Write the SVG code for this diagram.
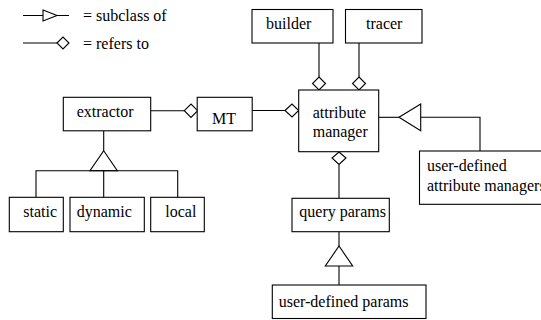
<svg xmlns="http://www.w3.org/2000/svg" width="541" height="320" viewBox="0 0 541 320">
<style>
.box{fill:#fff;stroke:#000;stroke-width:1.1}
.ln{fill:none;stroke:#000;stroke-width:1.1}
.dia{fill:#fff;stroke:#000;stroke-width:1.1}
.tri{fill:#fff;stroke:#000;stroke-width:1.1}
.t{font-family:'Liberation Serif','Times New Roman',serif;font-size:16px;fill:#000}
</style>
<g id="legend">
<path class="ln" d="M23,15.5 H69"/>
<polygon class="tri" points="43,10 57,15.5 43,21"/>
<text class="t" x="83" y="21">= subclass of</text>
<path class="ln" d="M23,43 H57"/>
<polygon class="dia" points="57,43 63,37 69,43 63,49"/>
<text class="t" x="83" y="49">= refers to</text>
</g>
<g id="connectors">
<path class="ln" d="M319,43 V77"/>
<polygon class="dia" points="319,77 325.5,83.5 319,90 312.5,83.5"/>
<path class="ln" d="M359,43 V77"/>
<polygon class="dia" points="359,77 365.5,83.5 359,90 352.5,83.5"/>
<path class="ln" d="M252,110.5 H285"/>
<polygon class="dia" points="285,110.5 292,104 298.7,110.5 292,117"/>
<path class="ln" d="M151,110.7 H184.3"/>
<polygon class="dia" points="184.3,110.7 191,104 197.7,110.7 191,117.4"/>
<path class="ln" d="M103.7,131 V150.7"/>
<polygon class="tri" points="103.7,150.7 117.3,170.7 90,170.7"/>
<path class="ln" d="M36,197.3 V170.7 H177.7 V197.3 M103.7,170.7 V197.3"/>
<path class="ln" d="M378.7,117.3 H399"/>
<polygon class="tri" points="399,117.3 420.7,104 420.7,130.7"/>
<path class="ln" d="M420.7,117.3 H480 V151"/>
<polygon class="dia" points="339,152 346,158 339,164.5 332,158"/>
<path class="ln" d="M339,164.5 V198.3"/>
<path class="ln" d="M339,231.7 V246"/>
<polygon class="tri" points="339,246 352.7,266 325.3,266"/>
<path class="ln" d="M339,266 V285"/>
</g>
<g id="builder">
<rect class="box" x="252" y="9.5" width="81" height="33.5"/>
<text class="t" x="266" y="29">builder</text>
</g>
<g id="tracer">
<rect class="box" x="345.5" y="9.5" width="76.5" height="33.5"/>
<text class="t" x="366" y="29">tracer</text>
</g>
<g id="attribute-manager">
<rect class="box" x="298.7" y="90" width="80" height="61.7"/>
<text class="t" x="312.7" y="118">attribute</text>
<text class="t" x="312.7" y="137">manager</text>
</g>
<g id="MT">
<rect class="box" x="197.2" y="97.3" width="55" height="33.5"/>
<text class="t" x="212" y="124">MT</text>
</g>
<g id="extractor">
<rect class="box" x="63.3" y="97.3" width="87.4" height="33.5"/>
<text class="t" x="76.7" y="116.7">extractor</text>
</g>
<g id="static">
<rect class="box" x="9.3" y="197.3" width="54" height="34.4"/>
<text class="t" x="23.3" y="217.3">static</text>
</g>
<g id="dynamic">
<rect class="box" x="70" y="197.3" width="74.3" height="34.4"/>
<text class="t" x="76.7" y="217.3">dynamic</text>
</g>
<g id="local">
<rect class="box" x="150.7" y="197.3" width="53.6" height="34.4"/>
<text class="t" x="165.3" y="217.3">local</text>
</g>
<g id="user-defined-attribute-managers">
<rect class="box" x="419.5" y="151" width="140" height="53.3"/>
<text class="t" x="427" y="170.7">user-defined</text>
<text class="t" x="427" y="191">attribute managers</text>
</g>
<g id="query-params">
<rect class="box" x="292" y="198.3" width="97.3" height="33.4"/>
<text class="t" x="299.3" y="217.3">query params</text>
</g>
<g id="user-defined-params">
<rect class="box" x="272.3" y="285" width="153.7" height="33.5"/>
<text class="t" x="278.7" y="306.7">user-defined params</text>
</g>
</svg>
